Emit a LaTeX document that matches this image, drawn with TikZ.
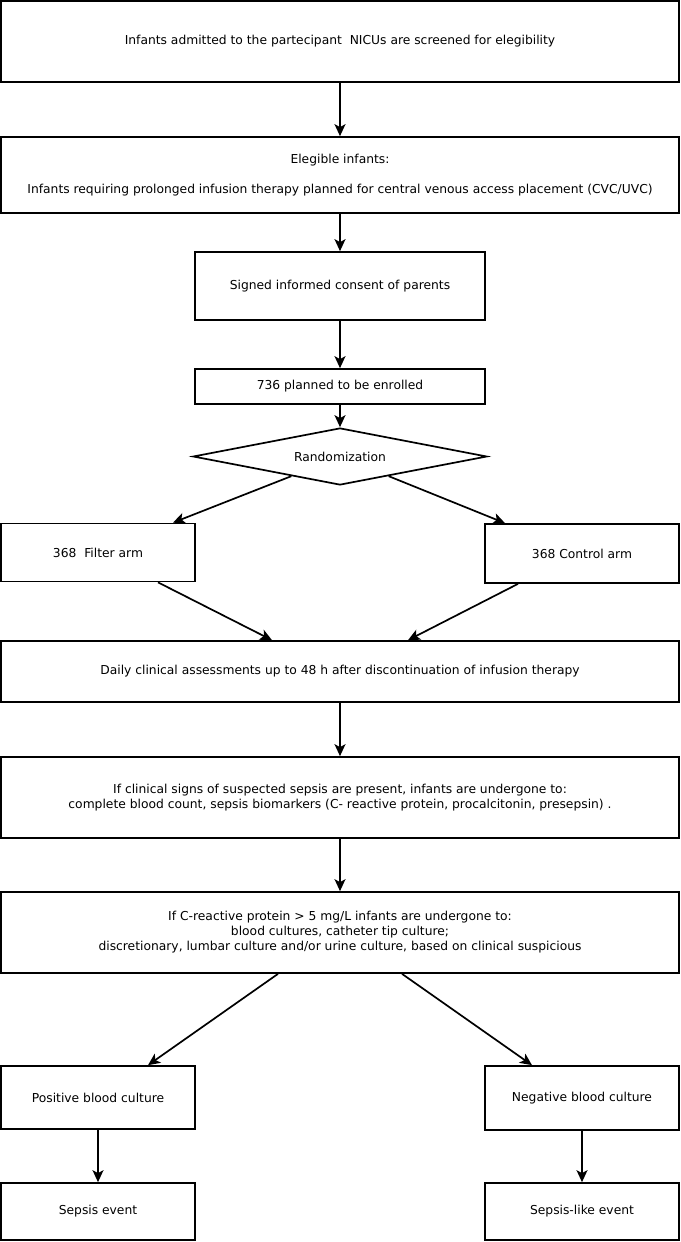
\documentclass[tikz,border=0pt]{standalone}
\usepackage{fontspec}
\setmainfont{DejaVu Sans}
\usetikzlibrary{shapes.geometric,arrows.meta}

\tikzset{x=1pt, y=-1pt}
\tikzset{blk/.style={draw, rectangle, align=center, inner sep=0pt, font=\fontsize{12.3}{15}\selectfont}}

\begin{document}
\begin{tikzpicture}[>={Stealth[length=12pt,width=11pt,inset=3pt]}, line width=1.7pt]
\useasboundingbox (0,0) rectangle (680,1242);
% top part
\node[blk, minimum width=678, minimum height=81] (screen) at (340,41.5) {Infants admitted to the partecipant~ NICUs are screened for elegibility};
\node[blk, minimum width=678, minimum height=76] (elig) at (340,175) {Elegible infants:\\[15pt]Infants requiring prolonged infusion therapy planned for central venous access placement (CVC/UVC)};
\node[blk, minimum width=290, minimum height=68] (consent) at (340,286) {Signed informed consent of parents};
\node[blk, minimum width=290, minimum height=35] (planned) at (340,386.5) {736 planned to be enrolled};
\node[blk, diamond, aspect=5.16, minimum width=294, minimum height=57] (rand) at (340,456.5) {Randomization};
% the two arms
\node[blk, minimum width=194, minimum height=58] (filter) at (98,552.5) {368~ Filter arm};
\node[blk, minimum width=194, minimum height=59] (ctrl) at (582,553.5) {368 Control arm};
% follow up
\node[blk, minimum width=678, minimum height=61] (daily) at (340,671.5) {Daily clinical assessments up to 48 h after discontinuation of infusion therapy};
\node[blk, minimum width=678, minimum height=81] (signs) at (340,797.5) {If clinical signs of suspected sepsis are present, infants are undergone to:\\complete blood count, sepsis biomarkers (C- reactive protein, procalcitonin, presepsin) .};
\node[blk, minimum width=678, minimum height=81] (crp) at (340,932.5) {If C-reactive protein > 5 mg/L infants are undergone to:\\blood cultures, catheter tip culture;\\discretionary, lumbar culture and/or urine culture, based on clinical suspicious};
% outcomes
\node[blk, minimum width=194, minimum height=63] (pos) at (98,1097.5) {Positive blood culture};
\node[blk, minimum width=194, minimum height=64] (neg) at (582,1098) {Negative blood culture};
\node[blk, minimum width=194, minimum height=57] (sepsis) at (98,1211.5) {Sepsis event};
\node[blk, minimum width=194, minimum height=57] (like) at (582,1211.5) {Sepsis-like event};

\foreach \a/\b in {screen/elig, elig/consent, consent/planned, planned/rand, daily/signs, signs/crp, pos/sepsis, neg/like}
\draw[->] (\a) -- (\b);

\draw[->] (rand.202.5) -- ([xshift=75pt]filter.north);
\draw[->] (rand.-22.5) -- ([xshift=-77pt]ctrl.north);
\draw[->] ([xshift=60pt]filter.south) -- ([xshift=-68pt]daily.north);
\draw[->] ([xshift=-64pt]ctrl.south) -- ([xshift=68pt]daily.north);
\draw[->] ([xshift=-62pt]crp.south) -- ([xshift=50pt]pos.north);
\draw[->] ([xshift=62pt]crp.south) -- ([xshift=-50pt]neg.north);
\end{tikzpicture}
\end{document}
